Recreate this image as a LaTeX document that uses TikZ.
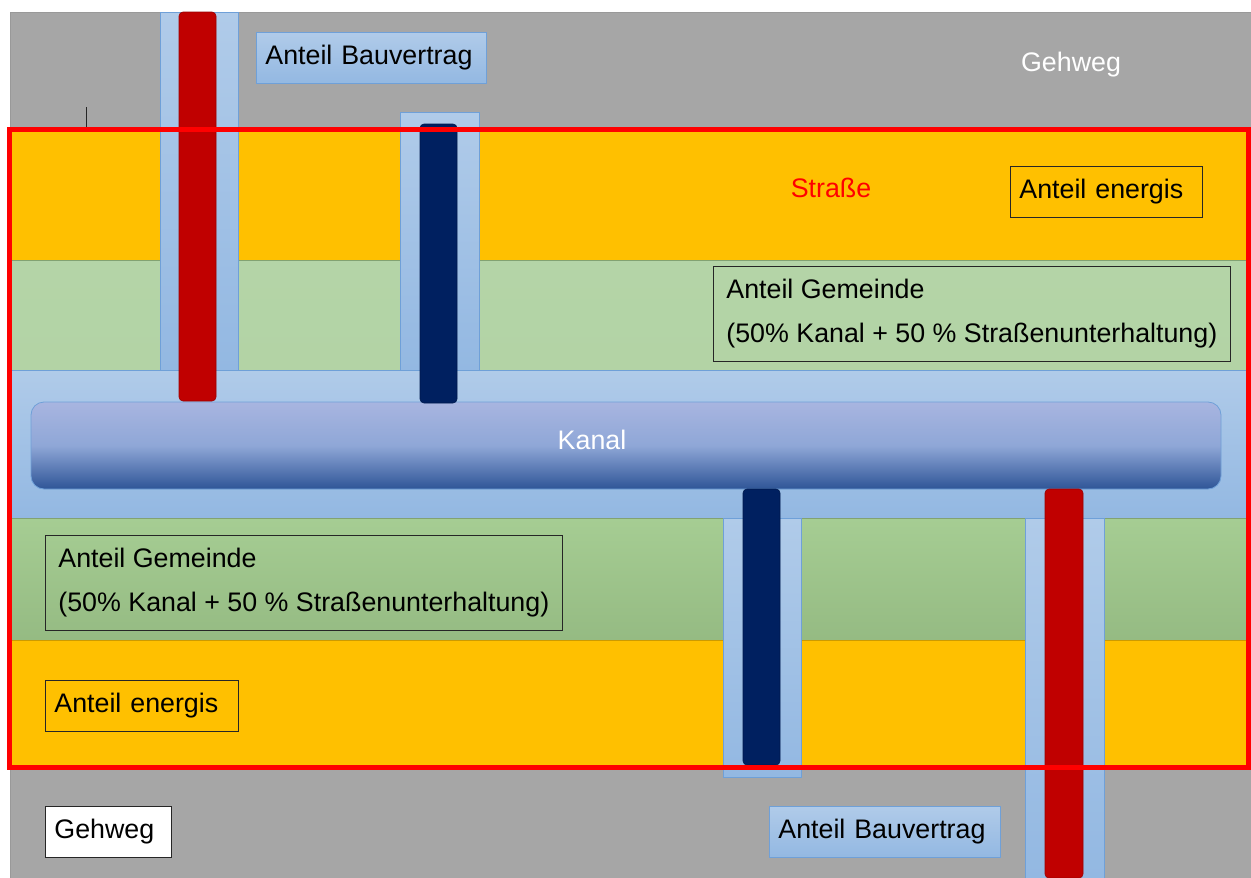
\documentclass[tikz,border=0pt]{standalone}
\usepackage{fontspec}
\setmainfont{Liberation Sans}
\definecolor{gehweg}{HTML}{A6A6A6}
\definecolor{strasse}{HTML}{FFC000}
\definecolor{gruenhell}{HTML}{B4D4A7}
\definecolor{gruen}{HTML}{A2CB8E}
\definecolor{hellblau}{HTML}{B0CBE9}
\definecolor{mittelblau}{HTML}{93B8E2}
\definecolor{blaurand}{HTML}{6FA0D8}
\definecolor{kanaloben}{HTML}{A8B5E0}
\definecolor{kanalmitte}{HTML}{8FA7D7}
\definecolor{kanalunten}{HTML}{2F5597}
\definecolor{rohrrot}{HTML}{C00000}
\definecolor{rohrblau}{HTML}{002060}
\tikzset{
  every node/.style={font=\fontsize{26.8pt}{44pt}\selectfont},
  hulle/.style={draw=blaurand, line width=0.8pt, top color=hellblau, bottom color=mittelblau},
  rohr/.style={fill=#1, draw=#1!80!black, line width=0.6pt, rounded corners=4pt},
  tag/.style={draw=black!85, line width=0.8pt, anchor=north west, inner xsep=9pt, inner ysep=13pt,
    text height=19.5pt, text depth=5.5pt, align=left},
  gemeinde/.style={draw=black!85, line width=0.8pt, anchor=north west, inner xsep=13pt, inner ysep=13pt,
    align=left}
}
\begin{document}
\begin{tikzpicture}[x=1pt,y=-1pt]
  \useasboundingbox[fill=white] (0,0) rectangle (1251,878);
  % Gehweg
  \draw[draw=gray!80, fill=gehweg] (10,12) rectangle (1251,878);
  \draw[gray!30!black, line width=0.6pt] (86,107) -- (86,128);
  % Strasse
  \draw[fill=strasse, draw=strasse!80!black, line width=0.6pt] (10,131) rectangle (1248,260);
  \draw[draw=gruen!80!black, line width=0.6pt, top color=gruenhell, bottom color=gruenhell!92!gruen] (10,260) rectangle (1248,370);
  \draw[hulle] (10,370) rectangle (1248,518);
  \draw[draw=gruen!80!black, line width=0.6pt, top color=gruen!80!gruenhell, bottom color=gruen!92!black] (10,518) rectangle (1248,640);
  \draw[fill=strasse, draw=strasse!80!black, line width=0.6pt] (10,640) rectangle (1248,767);
  % Schutzrohre
  \foreach \xa/\ya/\xb/\yb in {160/12/238/370, 400/112/479/370, 723/518/801/777, 1025/518/1104/878}
    \draw[hulle] (\xa,\ya) rectangle (\xb,\yb);
  % Kanal
  \draw[draw=blaurand, line width=0.8pt, rounded corners=13pt, top color=kanaloben, bottom color=kanalunten, middle color=kanalmitte]
    (31,402) rectangle (1221,489);
  % Leitungen
  \draw[rohr=rohrrot] (179,12) rectangle (216,401);
  \draw[rohr=rohrblau] (420,124) rectangle (457,403);
  \draw[rohr=rohrblau] (743,489) rectangle (780,765);
  \draw[rohr=rohrrot] (1045,489) rectangle (1083,878);
  \draw[red, line width=5pt] (9.5,129) rectangle (1248.5,767.5);
  % Texte
  \node[tag, draw=blaurand, top color=hellblau, bottom color=mittelblau, text width=212pt] (bauoben) at (256,32) {Anteil Bauvertrag};
  \node[text=white] (gehwegoben) at (1071,65) {Gehweg};
  \node[text=red] (strassetext) at (831,188) {Straße};
  \node[tag, text width=174pt] (energisoben) at (1010,166) {Anteil energis};
  \node[gemeinde] (gemeindeoben) at (713,266) {Anteil Gemeinde\\(50\% Kanal + 50 \% Straßenunterhaltung)};
  \node[text=white] (kanaltext) at (592,440) {Kanal};
  \node[gemeinde] (gemeindeunten) at (45,535) {Anteil Gemeinde\\(50\% Kanal + 50 \% Straßenunterhaltung)};
  \node[tag, text width=175pt] (energisunten) at (45,680) {Anteil energis};
  \node[tag, fill=white, text width=108pt] (gehwegunten) at (45,806) {Gehweg};
  \node[tag, draw=blaurand, top color=hellblau, bottom color=mittelblau, text width=213pt] (bauunten) at (769,806) {Anteil Bauvertrag};
\end{tikzpicture}
\end{document}
